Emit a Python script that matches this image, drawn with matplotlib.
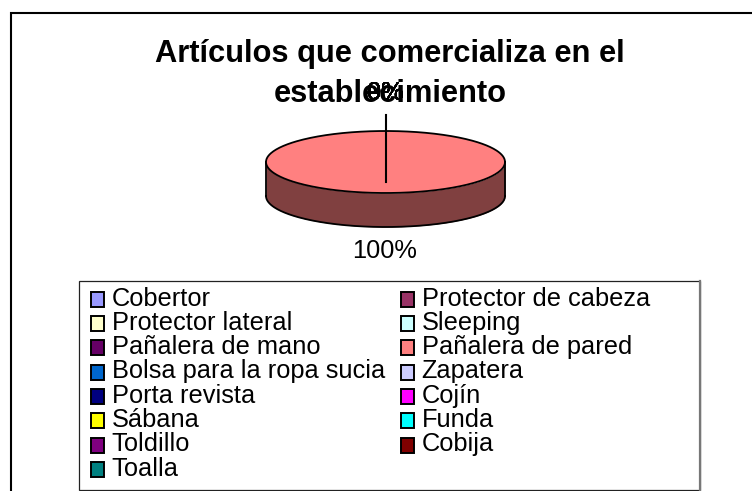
import matplotlib
matplotlib.use("Agg")
import matplotlib.pyplot as plt
import numpy as np
from matplotlib.patches import Patch, Rectangle

plt.rcParams['font.family'] = ['Liberation Sans', 'DejaVu Sans']

# --- data ---
title = "Artículos que comercializa en el\nestablecimiento"
categories = ["Cobertor", "Protector de cabeza", "Protector lateral", "Sleeping",
              "Pañalera de mano", "Pañalera de pared", "Bolsa para la ropa sucia", "Zapatera",
              "Porta revista", "Cojín", "Sábana", "Funda", "Toldillo", "Cobija", "Toalla"]
values = [0, 0, 0, 0, 0, 100, 0, 0, 0, 0, 0, 0, 0, 0, 0]
colors = ["#9999FF", "#993366", "#FFFFCC", "#CCFFFF", "#660066", "#FF8080", "#0066CC", "#CCCCFF",
          "#000080", "#FF00FF", "#FFFF00", "#00FFFF", "#800080", "#800000", "#008080"]
side_color = "#804040"

W, H = 752, 491
fig = plt.figure(figsize=(W / 100, H / 100), dpi=100, facecolor="white")

# page axes in pixels, for frame and text
bg = fig.add_axes([0, 0, 1, 1])
bg.set_xlim(0, W)
bg.set_ylim(H, 0)
bg.axis("off")

# outer frame: only top and left show in the crop
bg.plot([W, 11, 11], [13, 13, H], color="black", lw=1.5, solid_joinstyle="miter")

bg.text(390, 74, title, ha="center", va="center", fontsize=22.2, fontweight="bold",
        linespacing=1.47, color="black")

# --- pie, squashed to an ellipse ---
left, right, top, bottom = 266, 505, 131, 193
depth = 34 / ((bottom - top) / 2)
ax = fig.add_axes([left / W, 1 - bottom / H, (right - left) / W, (bottom - top) / H])
ax.pie(values, colors=colors, radius=1, startangle=90, counterclock=False,
       wedgeprops=dict(edgecolor="none", zorder=3))
ax.set_aspect("auto")
ax.set_xlim(-1, 1)
ax.set_ylim(-1, 1)
for c in ax.patches:
    c.set_clip_on(False)

# outline of the top face, no radial edge
t_all = np.linspace(0, 2 * np.pi, 400)
ax.plot(np.cos(t_all), np.sin(t_all), color="black", lw=1.3, zorder=4, clip_on=False)

# side wall of the pie
t = np.linspace(np.pi, 2 * np.pi, 200)
ax.fill_between(np.cos(t), np.sin(t), np.sin(t) - depth, color=side_color, lw=0, zorder=1, clip_on=False)
ax.plot(np.cos(t), np.sin(t) - depth, color="black", lw=1.3, zorder=2, clip_on=False)
ax.plot([-1, -1], [0, -depth], color="black", lw=1.3, zorder=2, clip_on=False)
ax.plot([1, 1], [0, -depth], color="black", lw=1.3, zorder=2, clip_on=False)

# leader of the zero slices
ax.plot([0, 0], [-0.645, 1.52], color="black", lw=1.5, zorder=5, clip_on=False)

# data labels: every zero slice puts its label on the same spot
pcts = [v / sum(values) * 100 for v in values]
for p in pcts:
    y = 251 if p > 0 else 93
    bg.text(385, y, f"{p:.0f}%", ha="center", va="center", fontsize=18.3, zorder=6)

# --- legend ---
bg.add_patch(Rectangle((79, 281), 621, 209, facecolor="white", edgecolor="#222222", lw=0.9))
bg.plot([700, 700], [281, 490], color="#777777", lw=1.6)

handles = [Patch(facecolor=c, edgecolor="black", linewidth=1.4) for c in colors]
order = list(range(0, len(categories), 2)) + list(range(1, len(categories), 2))
leg = bg.legend([handles[i] for i in order], [categories[i] for i in order],
                ncol=2, loc="upper left", bbox_to_anchor=(91 / W, 1 - 286.5 / H), bbox_transform=fig.transFigure,
                frameon=False, fontsize=18.3, borderpad=0, borderaxespad=0,
                handlelength=0.52, handleheight=0.52, handletextpad=0.3, labelspacing=0.012,
                columnspacing=0.62)
# swatches sit a little lower than the text
for h in leg.legend_handles:
    h.set_y(h.get_y() - 2)

fig.savefig("out.png", dpi=100)
